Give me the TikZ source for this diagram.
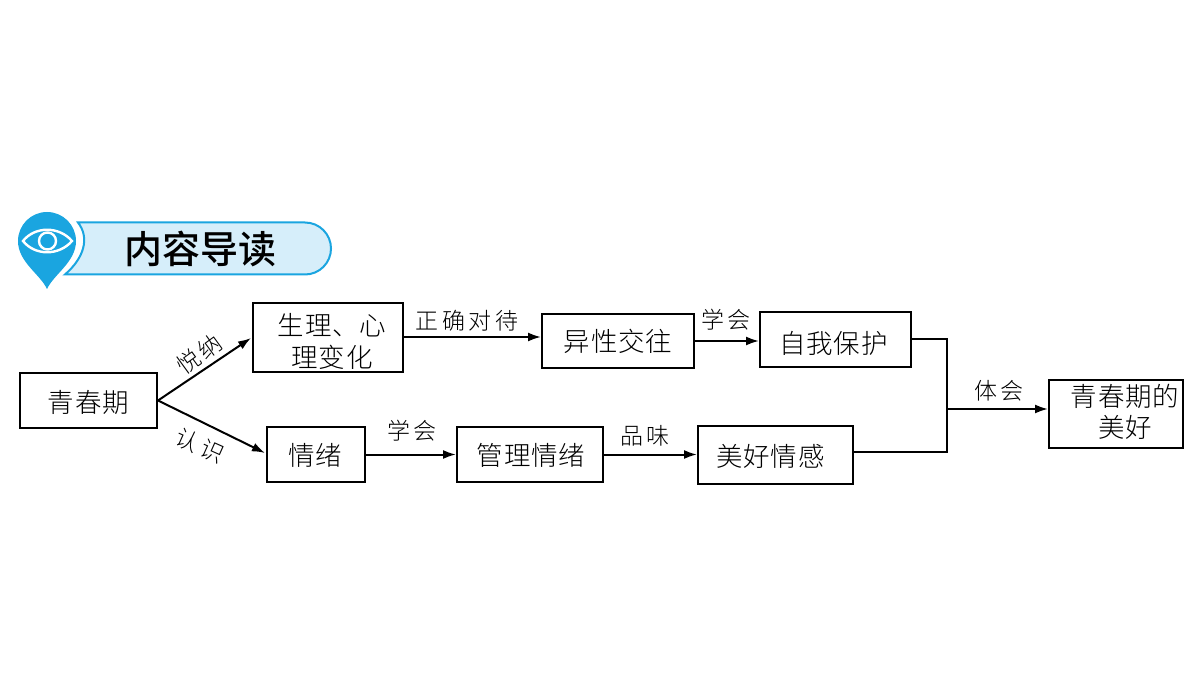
\documentclass[tikz,border=0pt]{standalone}
\usepackage{fontspec}
\setmainfont{Noto Sans CJK SC}
\newfontfamily\boxfont[LetterSpace=3]{Noto Sans CJK SC Light}
\newfontfamily\labfont[LetterSpace=16]{Noto Sans CJK SC Light}
\newfontfamily\titlefont{Noto Sans CJK SC Medium}
\definecolor{pinblue}{HTML}{1AA5E0}
\definecolor{bandfill}{HTML}{D6EEFA}
\usetikzlibrary{arrows.meta}
\tikzset{
  x=1pt,y=-1pt,
  boxnode/.style={draw=black,line width=2pt,inner sep=0pt,font=\boxfont\fontsize{26.5}{30}\selectfont},
  conn/.style={draw=black,line width=2pt},
  arrowconn/.style={conn,-{Latex[length=13pt,width=9pt]}},
  edgelabel/.style={inner sep=0pt,font=\labfont\fontsize{23}{26}\selectfont},
}
% name, x, y, width, height, text shift right, text shift down, text
\newcommand{\boxat}[8]{\node[boxnode,minimum width=#4 pt,minimum height=#5 pt] (#1) at (#2,#3) {\raisebox{\dimexpr-6.6pt-#7pt\relax}[0pt][0pt]{\makebox[0pt]{\hspace*{\dimexpr 2pt*#6\relax}\begin{tabular}[c]{@{}c@{}}#8\end{tabular}}}};}
\begin{document}
\begin{tikzpicture}
\useasboundingbox (0,0) rectangle (1200,676);
% badge
\fill[white] (0,0) rectangle (1200,676);
\draw[draw=pinblue,fill=bandfill,line width=2pt] (78,222.5) -- (305,222.5) arc[start angle=-90,end angle=90,radius=26] -- (65,274.5) .. controls (84,258) and (90,238) .. (78,222.5) -- cycle;
\fill[pinblue] (47,289) .. controls (40,274) and (18,262) .. (18,241) arc[start angle=180,end angle=360,radius=29] .. controls (76,262) and (54,274) .. (47,289) -- cycle;
\draw[white,line width=2.4pt] (23,241) .. controls (35,226) and (59,226) .. (72,241) .. controls (59,256) and (35,256) .. (23,241) -- cycle;
\draw[white,line width=2.4pt] (47.5,241) circle (8.5);
\node[inner sep=0pt,font=\titlefont\fontsize{38}{42}\selectfont] (title) at (200,249) {内容导读};
% boxes
\boxat{qcq}{88.5}{400.5}{137}{55}{0}{5}{青春期}
\boxat{sl}{328}{337.5}{150}{69}{4}{7}{生理、心\\理变化}
\boxat{qx}{316}{454.5}{98}{55}{-1}{4}{情绪}
\boxat{yx}{618}{341}{152}{54}{0}{3}{异性交往}
\boxat{zw}{835.5}{339.5}{151}{55}{-2}{7}{自我保护}
\boxat{gl}{530}{454.5}{146}{55}{1}{4}{管理情绪}
\boxat{mh}{775.5}{455}{155}{58}{-5}{5}{美好情感}
\boxat{qm}{1116}{414}{134}{68}{9}{1}{青春期的\\美好}
% connectors
\coordinate (join) at (947,409);
\draw[arrowconn] (qcq.east) -- (251,338);
\draw[arrowconn] (qcq.east) -- (265,453);
\draw[arrowconn] (sl.east|-yx) ++(0,-4) coordinate (a) -- (yx.west|-a);
\draw[arrowconn] (yx.east) -- (zw.west|-yx);
\draw[arrowconn] (qx.east) -- (gl.west);
\draw[arrowconn] (gl.east) -- (mh.west|-gl);
\draw[conn] (zw.east) -| (join);
\draw[conn] (mh.east|-0,452) -| (join);
\draw[arrowconn] (join) -- (qm.west|-join);
% labels
\node[edgelabel,rotate=36] (l1) at (199,354) {悦纳};
\node[edgelabel,rotate=-24] (l2) at (200,446) {认识};
\node[edgelabel] (l3) at (467,321) {正确对待};
\node[edgelabel] (l4) at (726,320) {学会};
\node[edgelabel] (l5) at (412,431) {学会};
\node[edgelabel] (l6) at (645,436) {品味};
\node[edgelabel] (l7) at (999,391) {体会};
\end{tikzpicture}
\end{document}
